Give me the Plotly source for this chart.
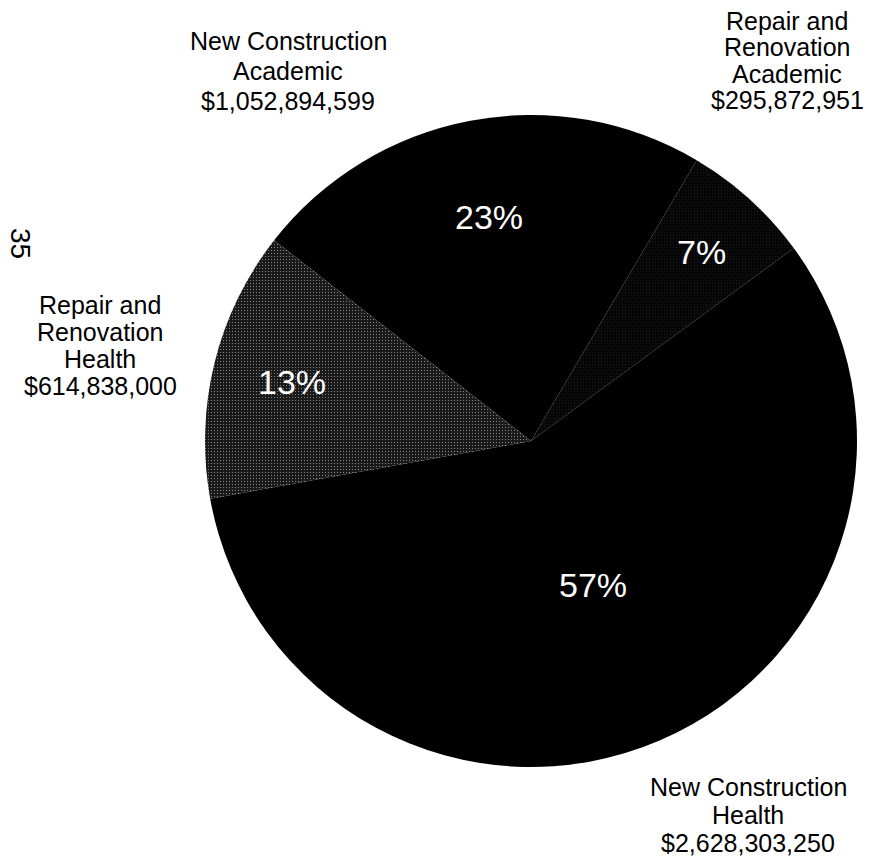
import math
import plotly.graph_objects as go

# Construction spending by category (dollars)
categories = [
    "New Construction Academic",
    "Repair and Renovation Academic",
    "New Construction Health",
    "Repair and Renovation Health",
]
amounts = [1052894599, 295872951, 2628303250, 614838000]
pct_labels = ["23%", "7%", "57%", "13%"]
label_lines = [
    ["New Construction", "Academic", "$1,052,894,599"],
    ["Repair and", "Renovation", "Academic", "$295,872,951"],
    ["New Construction", "Health", "$2,628,303,250"],
    ["Repair and", "Renovation", "Health", "$614,838,000"],
]
page_number = "35"

W, H = 872, 863
CX, CY, R = 531, 441, 326          # pie centre and radius in pixels
ROTATION = -52                     # start angle of first slice, clockwise from 12 o'clock

slice_colors = ["#000000", "#060606", "#000000", "#1a1a1a"]
pattern_shapes = ["", ".", "", "."]
pattern_fg = ["#000000", "#6a6a6a", "#000000", "#a8a8a8"]
pattern_solidity = [0.1, 0.04, 0.1, 0.09]

# outer label blocks: centre x, first line y, line step (pixels)
label_boxes = [(288, 41, 30), (787, 21, 26.5), (748, 787, 28), (100, 305, 27)]
# radial position of the percentage text, as a fraction of the radius
pct_radius = [0.70, 0.78, 0.48, 0.755]

FONT = "Liberation Sans, Arial, sans-serif"


def px(x):
    return x / W


def py(y):
    return 1 - y / H


fig = go.Figure(
    go.Pie(
        labels=categories,
        values=amounts,
        sort=False,
        direction="clockwise",
        rotation=ROTATION,
        textinfo="none",
        hoverinfo="label+value+percent",
        showlegend=False,
        marker=dict(
            colors=slice_colors,
            line=dict(width=0),
            pattern=dict(
                shape=pattern_shapes,
                fgcolor=pattern_fg,
                bgcolor=slice_colors,
                size=3,
                solidity=pattern_solidity,
            ),
        ),
        domain=dict(x=[px(CX - R), px(CX + R)], y=[py(CY + R), py(CY - R)]),
    )
)

annotations = []

# percentage labels placed along each slice's mid angle
total = sum(amounts)
start = ROTATION
for value, text, frac in zip(amounts, pct_labels, pct_radius):
    span = 360 * value / total
    mid = math.radians(start + span / 2)
    start += span
    x = CX + frac * R * math.sin(mid)
    y = CY - frac * R * math.cos(mid)
    annotations.append(dict(
        x=px(x), y=py(y), xref="paper", yref="paper",
        text=text, showarrow=False, xanchor="center", yanchor="middle",
        font=dict(family=FONT, size=34, color="#ffffff"),
    ))

# category labels outside the pie, one annotation per line
for lines, (bx, by, step) in zip(label_lines, label_boxes):
    for i, line in enumerate(lines):
        annotations.append(dict(
            x=px(bx), y=py(by + i * step), xref="paper", yref="paper",
            text=line, showarrow=False, xanchor="center", yanchor="middle",
            font=dict(family=FONT, size=25, color="#000000"),
        ))

# rotated page number in the left margin
annotations.append(dict(
    x=px(21), y=py(243), xref="paper", yref="paper",
    text=page_number, showarrow=False, textangle=90,
    xanchor="center", yanchor="middle",
    font=dict(family=FONT, size=28, color="#000000"),
))

fig.update_layout(
    width=W, height=H,
    margin=dict(l=0, r=0, t=0, b=0),
    paper_bgcolor="#ffffff",
    plot_bgcolor="#ffffff",
    annotations=annotations,
)

fig.write_html("out.html")
